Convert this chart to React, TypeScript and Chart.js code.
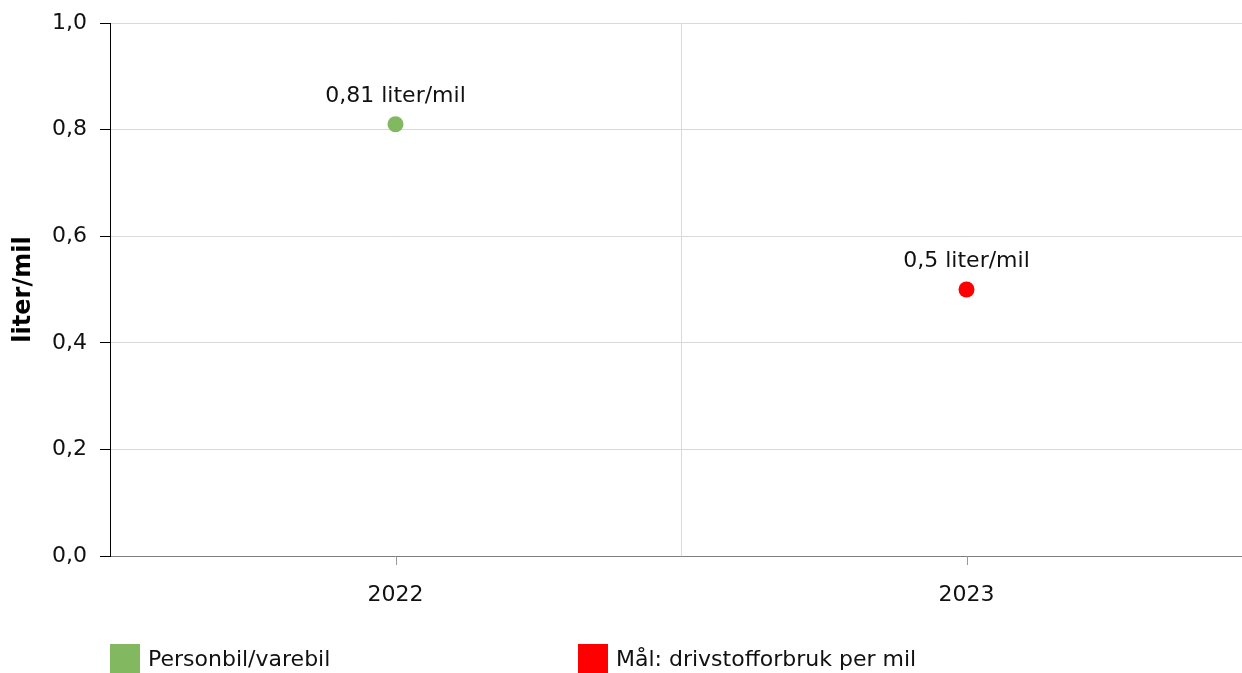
import React, { useEffect, useRef } from "react";
import { Chart, registerables } from "chart.js";

Chart.register(...registerables);

const categories = ["2022", "2023"];
const personbilValues = [0.81, null];
const maalValues = [null, 0.5];
const seriesLabels = ["Personbil/varebil", "Mål: drivstofforbruk per mil"];
const seriesColors = ["#82b860", "#ff0000"];
const yTicks = [0, 0.2, 0.4, 0.6, 0.8, 1.0];
const unit = "liter/mil";

const FONT = "'DejaVu Sans', Verdana, sans-serif";
const FS = 22;

const fmt = (v: number, d?: number) =>
  (d !== undefined ? v.toFixed(d) : String(v)).replace(".", ",");

const decorPlugin = {
  id: "decor",
  afterDraw(chart: any) {
    const ctx = chart.ctx;
    const xs = chart.scales.x;
    const area = chart.chartArea;
    ctx.save();
    // x tick marks at category centers
    ctx.strokeStyle = "#999999";
    ctx.lineWidth = 1;
    categories.forEach((_, i) => {
      const px = Math.round(xs.getPixelForValue(i)) + 0.5;
      ctx.beginPath();
      ctx.moveTo(px, area.bottom + 1);
      ctx.lineTo(px, area.bottom + 9);
      ctx.stroke();
    });
    // data labels
    ctx.font = `${FS}px ${FONT}`;
    ctx.fillStyle = "#111111";
    ctx.textAlign = "center";
    ctx.textBaseline = "middle";
    chart.data.datasets.forEach((ds: any, di: number) => {
      const meta = chart.getDatasetMeta(di);
      ds.data.forEach((v: any, i: number) => {
        if (v === null || v === undefined) return;
        const el = meta.data[i];
        ctx.fillText(`${fmt(v)} ${unit}`, el.x, el.y - 28);
      });
    });
    // legend
    const legendX = [area.left, area.left + 468];
    chart.data.datasets.forEach((ds: any, di: number) => {
      const lx = legendX[di];
      ctx.fillStyle = ds.backgroundColor;
      ctx.fillRect(lx, 644, 30, 30);
      ctx.fillStyle = "#111111";
      ctx.textAlign = "left";
      ctx.textBaseline = "middle";
      ctx.font = `${FS}px ${FONT}`;
      ctx.fillText(ds.label, lx + 38, 660);
    });
    ctx.restore();
  },
};

export default function App() {
  const ref = useRef<HTMLCanvasElement | null>(null);
  useEffect(() => {
    if (!ref.current) return;
    const chart = new Chart(ref.current, {
      type: "line",
      data: {
        labels: categories,
        datasets: [
          {
            label: seriesLabels[0],
            data: personbilValues,
            backgroundColor: seriesColors[0],
            borderColor: seriesColors[0],
            showLine: false,
            pointRadius: 8,
            pointBorderWidth: 0,
          },
          {
            label: seriesLabels[1],
            data: maalValues,
            backgroundColor: seriesColors[1],
            borderColor: seriesColors[1],
            showLine: false,
            pointRadius: 8,
            pointBorderWidth: 0,
          },
        ],
      },
      options: {
        animation: false,
        responsive: false,
        events: [],
        layout: { autoPadding: false, padding: { top: 23, right: 0, bottom: 0, left: 0 } },
        plugins: {
          legend: { display: false },
          tooltip: { enabled: false },
        },
        scales: {
          x: {
            offset: true,
            grid: {
              offset: true,
              color: "#d9d9d9",
              drawTicks: false,
            },
            border: { color: "#7f7f7f", width: 1 },
            ticks: {
              padding: 26,
              color: "#111111",
              font: { family: FONT, size: FS },
            },
            afterFit: (s: any) => {
              s.height = 117;
              s.paddingLeft = 0;
              s.paddingRight = 0;
            },
          },
          y: {
            min: 0,
            max: 1,
            afterBuildTicks: (s: any) => {
              s.ticks = yTicks.map((v) => ({ value: v }));
            },
            grid: {
              color: "#d9d9d9",
              tickColor: "#000000",
              tickLength: 10,
            },
            border: { color: "#000000", width: 1 },
            ticks: {
              padding: 13,
              color: "#111111",
              font: { family: FONT, size: FS },
              callback: (v: any) => fmt(Number(v), 1),
            },
            title: {
              display: true,
              text: unit,
              color: "#000000",
              font: { family: FONT, size: 24, weight: "bold" },
              padding: { top: 9, bottom: 0 },
            },
            afterFit: (s: any) => {
              s.width = 110;
              s.paddingTop = 0;
              s.paddingBottom = 0;
            },
          },
        },
      },
      plugins: [decorPlugin],
    } as any);
    return () => chart.destroy();
  }, []);
  return (
    <div
      style={{
        position: "absolute",
        left: 0,
        top: 0,
        width: 1242,
        height: 673,
        overflow: "hidden",
        background: "#fff",
      }}
    >
      <canvas ref={ref} width={1252} height={673} style={{ display: "block" }} />
    </div>
  );
}
